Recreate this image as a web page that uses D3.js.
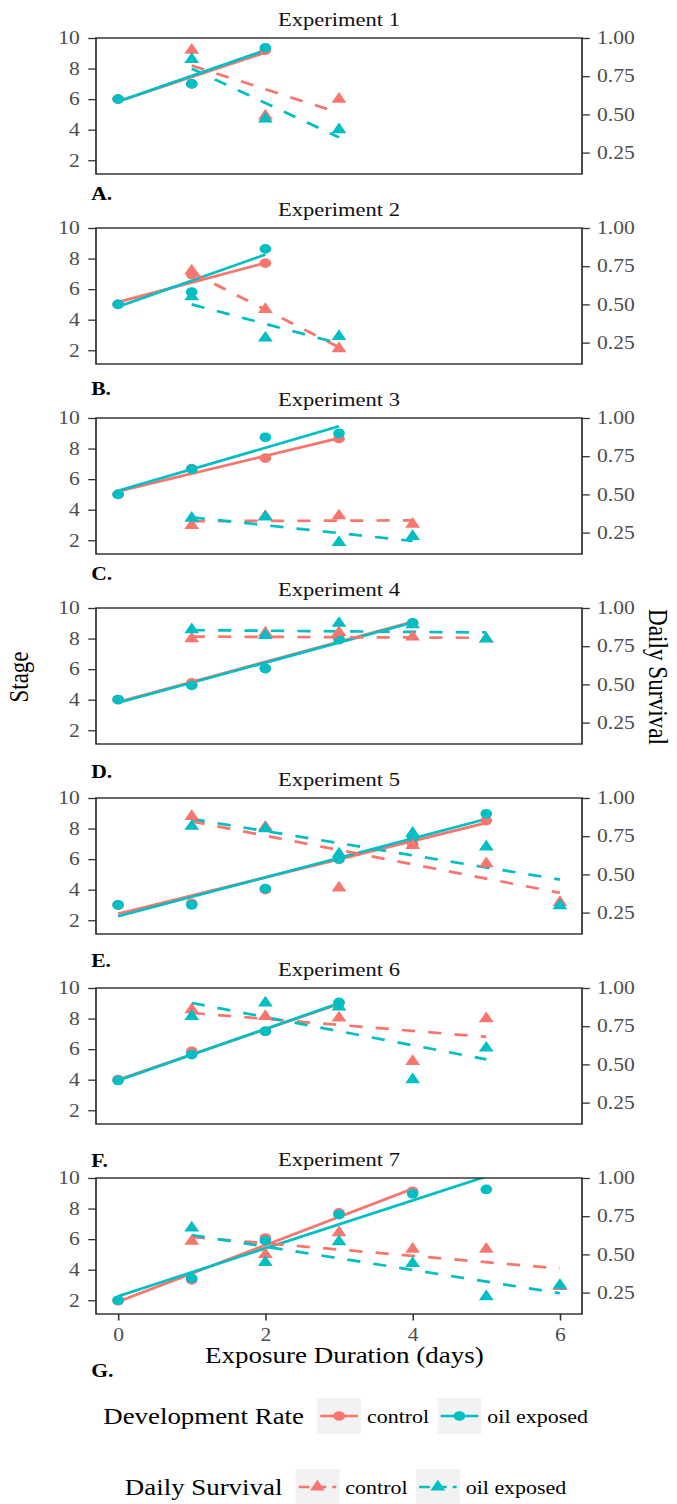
<!DOCTYPE html>
<html>
<head>
<meta charset="utf-8">
<script src="https://cdn.jsdelivr.net/npm/d3@7"></script>
<style>
  body { margin: 0; background: #fff; }
  svg { display: block; }
</style>
</head>
<body>
<div id="chart"></div>
<script>
// values; survival on its own 0-1 scale (secondary axis)
var experiments = ["Experiment 1", "Experiment 2", "Experiment 3", "Experiment 4",
                   "Experiment 5", "Experiment 6", "Experiment 7"];
var panelLabels = ["A.", "B.", "C.", "D.", "E.", "F.", "G."];
var groups = ["control", "oil exposed"];
var legendTitles = ["Development Rate", "Daily Survival"];
var stageTicks = [2, 4, 6, 8, 10];
var survivalTicks = [0.25, 0.50, 0.75, 1.00];
var dayTicks = [0, 2, 4, 6];

// stage by day, starting at day 0
var devControl = [
  [6.0, 7.0, 9.2],
  [5.0, 6.95, 7.7],
  [5.0, 6.69, 7.37, 8.65],
  [4.0, 5.1, 6.05, 8.0, 9.0],
  [3.0, 3.1, 4.0, 6.0, 7.0, 8.52],
  [4.0, 5.86, 7.17, 9.0],
  [1.97, 3.33, 6.07, 7.72, 9.12]
];
var devOil = [
  [6.0, 7.0, 9.35],
  [5.0, 5.8, 8.63],
  [5.0, 6.65, 8.74, 9.0],
  [4.0, 4.94, 6.03, 7.93, 9.02],
  [3.0, 3.0, 4.07, 6.01, 7.39, 8.97],
  [3.95, 5.64, 7.17, 9.06],
  [2.0, 3.43, 5.9, 7.6, 8.97, 9.25]
];
// fitted line, value at first and last day
var devControlFit = [[5.85, 9.05], [5.15, 7.72], [5.2, 8.68], [3.85, 9.1], [2.42, 8.37], [4.0, 8.95], [1.9, 9.3]];
var devOilFit = [[5.85, 9.2], [4.85, 8.26], [5.24, 9.46], [3.8, 9.05], [2.26, 8.63], [3.95, 9.0], [2.26, 10.1]];

// daily survival by day, starting at day 1
var survControl = [
  [0.92, 0.49, 0.60],
  [0.72, 0.467, 0.21],
  [0.297, 0.357, 0.36, 0.305],
  [0.80, 0.837, 0.84, 0.81, 0.80],
  [0.88, 0.81, 0.412, 0.69, 0.57, 0.317],
  [0.858, 0.814, 0.804, 0.52, 0.80],
  [0.586, 0.499, 0.642, 0.534, 0.534, 0.29]
];
var survOil = [
  [0.86, 0.47, 0.40],
  [0.55, 0.28, 0.29],
  [0.344, 0.352, 0.186, 0.225],
  [0.858, 0.82, 0.90, 0.89, 0.797],
  [0.815, 0.80, 0.634, 0.77, 0.68, 0.296],
  [0.814, 0.902, 0.876, 0.40, 0.607],
  [0.673, 0.448, 0.583, 0.441, 0.224, 0.298]
];
var survControlFit = [[0.82, 0.51], [0.71, 0.22], [0.325, 0.33], [0.813, 0.805], [0.847, 0.379], [0.837, 0.68], [0.614, 0.408]];
var survOilFit = [[0.80, 0.35], [0.50, 0.245], [0.35, 0.195], [0.855, 0.84], [0.863, 0.466], [0.902, 0.533], [0.627, 0.246]];

// the reference is squeezed: everything is about 1.2x wider than tall
var stretch = 1.2;
var width = 677, height = 1504;
var plotLeft = 80, plotRight = 485;
var panelHeight = 136, panelStep = 190, firstTop = 38;
var labelBaseline = [200, 395, 580, 778, 967, 1167, 1377];
var color = ["#F8766D", "#00BFC4"];
var font = '"Liberation Serif", "Times New Roman", Times, serif';

var svg = d3.select("#chart").append("svg")
    .attr("width", width)
    .attr("height", height)
    .style("font-family", font)
    .append("g")
    .attr("transform", "scale(" + stretch + ",1)");

var x = d3.scaleLinear()
    .domain([-0.3, 6.3])
    .range([plotLeft, plotRight]);

var circle = d3.symbol().type(d3.symbolCircle).size(74);
var triangle = d3.symbol().type(d3.symbolTriangle).size(66);

function drawFit(g, y, start, n, fit, col, dashed) {
  var line = d3.line()
      .x(function(d) { return x(d[0]); })
      .y(function(d) { return y(d[1]); });
  g.append("path")
      .datum([[start, fit[0]], [start + n - 1, fit[1]]])
      .attr("d", line)
      .attr("fill", "none")
      .attr("stroke", col)
      .attr("stroke-width", 2.7)
      .attr("stroke-dasharray", dashed ? "11,11" : null);
}

function drawPoints(g, y, start, vals, col, sym) {
  g.selectAll(null)
      .data(vals)
      .enter().append("path")
      .attr("d", sym)
      .attr("transform", function(d, j) {
        return "translate(" + x(start + j) + "," + y(d) + ")";
      })
      .attr("fill", col);
}

function styleAxis(axisG) {
  axisG.attr("font-family", font).attr("font-size", 18);
  axisG.select(".domain").remove();
  axisG.selectAll("line").attr("stroke", "#333").attr("stroke-width", 1.3);
  axisG.selectAll("text").attr("fill", "#4d4d4d");
}

experiments.forEach(function(name, i) {
  var top = firstTop + panelStep * i,
      bottom = top + panelHeight;

  var y = d3.scaleLinear().domain([1.1, 10]).range([bottom, top]);
  var y2 = d3.scaleLinear().domain([0.11, 1]).range([bottom, top]);

  var panel = svg.append("g");

  panel.append("clipPath")
      .attr("id", "clip" + i)
      .append("rect")
      .attr("x", plotLeft)
      .attr("y", top)
      .attr("width", plotRight - plotLeft)
      .attr("height", panelHeight);

  panel.append("text")
      .attr("x", (plotLeft + plotRight) / 2)
      .attr("y", top - 12)
      .attr("text-anchor", "middle")
      .attr("font-size", 18.8)
      .attr("fill", "#111")
      .text(name);

  var plot = panel.append("g").attr("clip-path", "url(#clip" + i + ")");

  drawFit(plot, y, 0, devControl[i].length, devControlFit[i], color[0], false);
  drawFit(plot, y, 0, devOil[i].length, devOilFit[i], color[1], false);
  drawPoints(plot, y, 0, devControl[i], color[0], circle);
  drawPoints(plot, y, 0, devOil[i], color[1], circle);

  drawFit(plot, y2, 1, survControl[i].length, survControlFit[i], color[0], true);
  drawFit(plot, y2, 1, survOil[i].length, survOilFit[i], color[1], true);
  drawPoints(plot, y2, 1, survControl[i], color[0], triangle);
  drawPoints(plot, y2, 1, survOil[i], color[1], triangle);

  panel.append("rect")
      .attr("x", plotLeft)
      .attr("y", top)
      .attr("width", plotRight - plotLeft)
      .attr("height", panelHeight)
      .attr("fill", "none")
      .attr("stroke", "#1a1a1a")
      .attr("stroke-width", 1.3);

  panel.append("g")
      .attr("transform", "translate(" + plotLeft + ",0)")
      .call(d3.axisLeft(y).tickValues(stageTicks).tickSize(6.5).tickPadding(7))
      .call(styleAxis);

  panel.append("g")
      .attr("transform", "translate(" + plotRight + ",0)")
      .call(d3.axisRight(y2).tickValues(survivalTicks).tickFormat(d3.format(".2f"))
        .tickSize(6.5).tickPadding(6))
      .call(styleAxis);

  if (i == experiments.length - 1) {
    panel.append("g")
        .attr("transform", "translate(0," + bottom + ")")
        .call(d3.axisBottom(x).tickValues(dayTicks).tickFormat(d3.format("d"))
          .tickSize(6.5).tickPadding(7.7))
        .call(styleAxis);
  }

  svg.append("text")
      .attr("x", 76)
      .attr("y", labelBaseline[i])
      .attr("font-size", 18)
      .attr("font-weight", "bold")
      .text(panelLabels[i]);
});

// axis titles
svg.append("text")
    .attr("transform", "translate(23.5,677) rotate(-90)")
    .attr("text-anchor", "middle")
    .attr("font-size", 23)
    .text("Stage");

svg.append("text")
    .attr("transform", "translate(541,677) rotate(90)")
    .attr("text-anchor", "middle")
    .attr("font-size", 23.2)
    .text("Daily Survival");

svg.append("text")
    .attr("x", 287)
    .attr("y", 1363)
    .attr("text-anchor", "middle")
    .attr("font-size", 22.5)
    .text("Exposure Duration (days)");

// legends
var legendCenter = [1416, 1487];
var keyW = 36.5, keyH = 36;

legendTitles.forEach(function(title, k) {
  var cy = legendCenter[k];
  var sym = k == 0 ? circle : triangle;
  var lg = svg.append("g");

  var t = lg.append("text")
      .attr("x", 0)
      .attr("y", cy + 8)
      .attr("font-size", 22.4)
      .text(title);
  var pos = t.node().getComputedTextLength() + 11;

  groups.forEach(function(grp, j) {
    lg.append("rect")
        .attr("x", pos)
        .attr("y", cy - keyH / 2)
        .attr("width", keyW)
        .attr("height", keyH)
        .attr("fill", "#f2f2f2");
    lg.append("line")
        .attr("x1", pos + 2.6)
        .attr("x2", pos + keyW - 2.6)
        .attr("y1", cy)
        .attr("y2", cy)
        .attr("stroke", color[j])
        .attr("stroke-width", 2.7)
        .attr("stroke-dasharray", k == 1 ? "9,5" : null);
    lg.append("path")
        .attr("d", sym)
        .attr("transform", "translate(" + (pos + keyW / 2) + "," + cy + ")")
        .attr("fill", color[j]);
    var lab = lg.append("text")
        .attr("x", pos + keyW + 5)
        .attr("y", cy + 7)
        .attr("font-size", 18.3)
        .text(grp);
    pos += keyW + 5 + lab.node().getComputedTextLength() + 7;
  });

  var total = pos - 7;
  lg.attr("transform", "translate(" + (288 - total / 2) + ",0)");
});
</script>
</body>
</html>
